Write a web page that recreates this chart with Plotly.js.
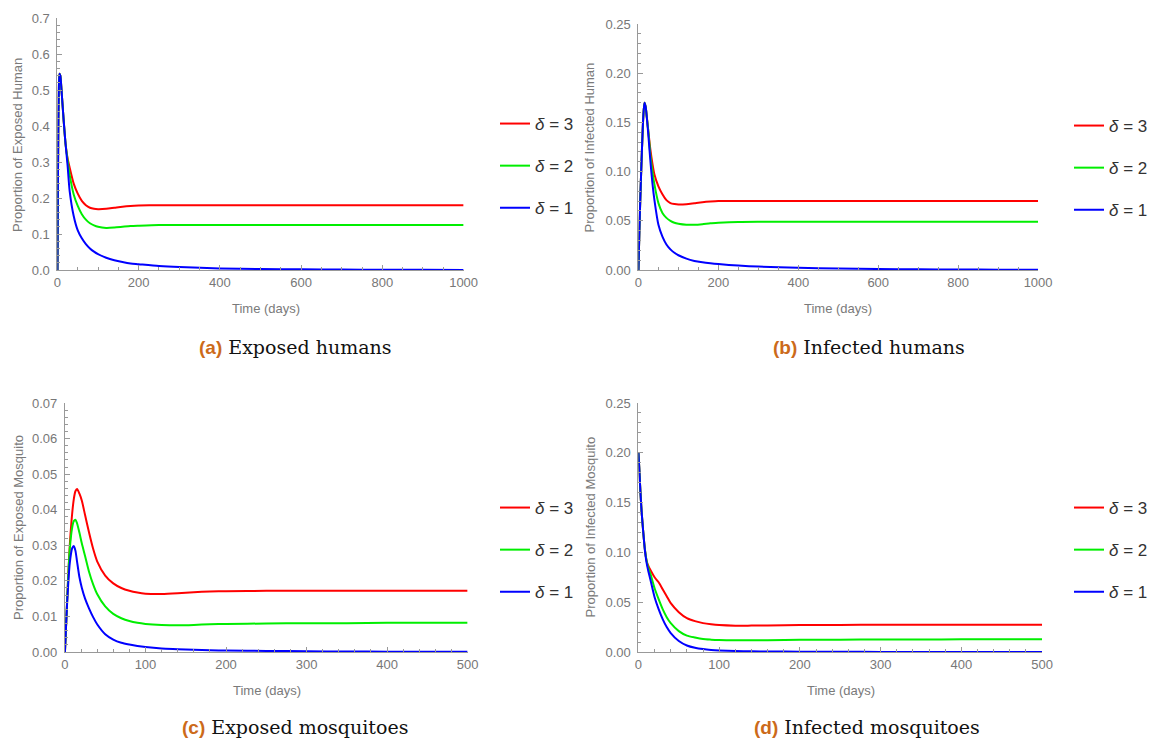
<!DOCTYPE html>
<html>
<head>
<meta charset="utf-8">
<script src="https://cdn.plot.ly/plotly-3.0.1.min.js"></script>
<style>html,body{margin:0;padding:0;background:#fff;}#chart{width:1153px;height:740px;}</style>
</head>
<body>
<div id="chart"></div>
<script>
// ---------- data ----------
const seriesNames = ["<i>δ</i> = 3", "<i>δ</i> = 2", "<i>δ</i> = 1"];
const seriesColors = ["#ff0000", "#00ee00", "#0000ff"];

// (a) Exposed humans
const tA = [0,1,2,3,5,7,10,15,20,25,30,40,50,60,70,80,90,100,120,140,160,180,200,250,300,400,500,600,700,800,900,1000];
const redA = [0,0.2,0.38,0.48,0.545,0.54,0.5,0.42,0.35,0.31,0.285,0.24,0.212,0.192,0.18,0.173,0.17,0.169,0.17,0.173,0.176,0.178,0.179,0.18,0.18,0.18,0.18,0.18,0.18,0.18,0.18,0.18];
const greenA = [0,0.2,0.38,0.48,0.545,0.54,0.5,0.42,0.35,0.305,0.265,0.21,0.178,0.155,0.14,0.13,0.124,0.12,0.117,0.118,0.12,0.122,0.123,0.125,0.125,0.125,0.125,0.125,0.125,0.125,0.125,0.125];
const blueA = [0,0.2,0.38,0.48,0.545,0.54,0.5,0.42,0.35,0.29,0.22,0.15,0.11,0.088,0.072,0.06,0.051,0.044,0.034,0.027,0.022,0.018,0.016,0.011,0.008,0.0045,0.0028,0.0018,0.0012,0.0008,0.0005,0.0003];

// (b) Infected humans
const tB = [0,3,6,9,12,15,18,21,25,30,35,40,50,60,70,80,90,100,120,140,160,180,200,250,300,400,500,600,700,800,900,1000];
const redB = [0,0.05,0.09,0.125,0.155,0.17,0.166,0.155,0.14,0.122,0.108,0.097,0.085,0.077,0.071,0.068,0.067,0.0665,0.0668,0.0678,0.0688,0.0695,0.07,0.07,0.07,0.07,0.07,0.07,0.07,0.07,0.07,0.07];
const greenB = [0,0.05,0.09,0.125,0.155,0.17,0.166,0.155,0.14,0.116,0.1,0.087,0.068,0.058,0.053,0.05,0.048,0.047,0.046,0.046,0.0466,0.0475,0.048,0.0488,0.049,0.049,0.049,0.049,0.049,0.049,0.049,0.049];
const blueB = [0,0.05,0.09,0.125,0.155,0.17,0.166,0.155,0.136,0.11,0.088,0.071,0.046,0.034,0.026,0.021,0.0175,0.015,0.0115,0.0092,0.0078,0.0068,0.006,0.0045,0.0035,0.0022,0.0014,0.001,0.0007,0.0005,0.0003,0.0002];

// (c) Exposed mosquitoes
const tC = [0,3,6,9,11,13,15,18,21,25,30,35,40,50,60,70,80,90,100,120,140,160,180,200,250,300,350,400,450,500];
const redC = [0,0.016,0.03,0.039,0.043,0.0452,0.0458,0.0445,0.0425,0.0385,0.0335,0.029,0.0255,0.0215,0.0193,0.018,0.0172,0.0167,0.0164,0.0163,0.0165,0.0168,0.017,0.0171,0.0172,0.0172,0.0172,0.0172,0.0172,0.0172];
const greenC = [0,0.016,0.029,0.035,0.0368,0.0372,0.0362,0.0335,0.0305,0.027,0.0225,0.019,0.0163,0.0128,0.0107,0.0095,0.0087,0.0082,0.0079,0.0076,0.0075,0.0076,0.0078,0.0079,0.008,0.0081,0.0081,0.0082,0.0082,0.0082];
const blueC = [0,0.015,0.025,0.0292,0.0298,0.0285,0.0255,0.021,0.018,0.015,0.0122,0.0098,0.0078,0.005,0.0035,0.0026,0.0021,0.0017,0.0014,0.001,0.0008,0.0006,0.0005,0.0004,0.0003,0.0002,0.00015,0.0001,0.0001,0.0001];

// (d) Infected mosquitoes
const tD = [0,1,2,3,4,6,8,10,12,15,20,25,30,35,40,50,60,70,80,90,100,120,140,160,200,250,300,350,400,450,500];
const redD = [0.2,0.185,0.168,0.153,0.14,0.12,0.103,0.092,0.087,0.082,0.075,0.07,0.063,0.056,0.049,0.04,0.034,0.031,0.029,0.0278,0.027,0.0264,0.0265,0.0267,0.027,0.0272,0.0273,0.0274,0.0274,0.0274,0.0274];
const greenD = [0.2,0.185,0.168,0.153,0.14,0.12,0.103,0.092,0.085,0.078,0.064,0.053,0.043,0.035,0.029,0.021,0.0165,0.0145,0.013,0.0124,0.012,0.0117,0.0117,0.0119,0.0122,0.0124,0.0125,0.0126,0.0127,0.0127,0.0127];
const blueD = [0.2,0.185,0.168,0.153,0.14,0.12,0.102,0.09,0.082,0.072,0.055,0.043,0.033,0.025,0.019,0.011,0.0065,0.0042,0.0029,0.0021,0.0016,0.001,0.0007,0.0005,0.0003,0.0002,0.0001,0.0001,0.0001,0,0];

// axis labels / captions
const yTitles = ["Proportion of Exposed Human", "Proportion of Infected Human", "Proportion of Exposed Mosquito", "Proportion of Infected Mosquito"];
const xTitle = "Time (days)";
const capLetters = ["(a)", "(b)", "(c)", "(d)"];
const capTexts = ["Exposed humans", "Infected humans", "Exposed mosquitoes", "Infected mosquitoes"];

// ---------- layout helpers ----------
const W = 1153, H = 740;
const fx = p => p / W;
const fy = p => 1 - p / H;

const panels = [
  {t: tA, ys: [redA, greenA, blueA], xr: [0, 1000], yr: [0, 0.7], xd: 200, xm: 50, yd: 0.1, ym: 0.02, yf: ".1f",
   box: [57.5, 464, 18, 270], leg: [495, 106], cap: [295, 347], yt: [17, 145], xt: [266, 308]},
  {t: tB, ys: [redB, greenB, blueB], xr: [0, 1000], yr: [0, 0.25], xd: 200, xm: 50, yd: 0.05, ym: 0.01, yf: ".2f",
   box: [639, 1039, 24, 270], leg: [1070, 108], cap: [870, 347], yt: [591, 147], xt: [839, 308]},
  {t: tC, ys: [redC, greenC, blueC], xr: [0, 500], yr: [0, 0.07], xd: 100, xm: 20, yd: 0.01, ym: 0.002, yf: ".2f",
   box: [65, 468, 403, 652], leg: [495, 490], cap: [295, 727], yt: [18, 527], xt: [267, 690]},
  {t: tD, ys: [redD, greenD, blueD], xr: [0, 500], yr: [0, 0.25], xd: 100, xm: 20, yd: 0.05, ym: 0.01, yf: ".2f",
   box: [639, 1043, 403, 652], leg: [1070, 490], cap: [868, 727], yt: [591, 527], xt: [842, 690]}
];

const axCol = "#999999";
const tickFont = {family: "Liberation Sans, Arial, sans-serif", size: 13, color: "#777777"};
const traces = [];
const layout = {
  width: W, height: H,
  margin: {l: 0, r: 0, t: 0, b: 0},
  paper_bgcolor: "#ffffff", plot_bgcolor: "#ffffff",
  font: {family: "Liberation Sans, Arial, sans-serif"},
  annotations: [],
  showlegend: true
};

panels.forEach((p, i) => {
  const n = i === 0 ? "" : String(i + 1);
  const xa = "xaxis" + n, ya = "yaxis" + n;
  const legKey = "legend" + n;
  layout[xa] = {
    domain: [fx(p.box[0]), fx(p.box[1])], range: p.xr, anchor: "y" + n,
    showline: true, linecolor: axCol, linewidth: 1, showgrid: false, zeroline: false,
    ticks: "inside", ticklen: 5, tickcolor: axCol, tick0: 0, dtick: p.xd,
    minor: {ticks: "inside", ticklen: 3, tickcolor: axCol, dtick: p.xm, showgrid: false},
    tickfont: tickFont, fixedrange: true
  };
  layout[ya] = {
    domain: [fy(p.box[3]), fy(p.box[2])], range: p.yr, anchor: "x" + n,
    showline: true, linecolor: axCol, linewidth: 1, showgrid: false, zeroline: false,
    ticks: "inside", ticklen: 5, tickcolor: axCol, tick0: 0, dtick: p.yd, tickformat: p.yf,
    minor: {ticks: "inside", ticklen: 3, tickcolor: axCol, dtick: p.ym, showgrid: false},
    tickfont: tickFont, ticklabelstandoff: 4, fixedrange: true
  };
  layout[legKey] = {
    x: fx(p.leg[0]), y: fy(p.leg[1]), xanchor: "left", yanchor: "top",
    bgcolor: "rgba(0,0,0,0)", borderwidth: 0, tracegroupgap: 17,
    font: {family: "Liberation Sans, Arial, sans-serif", size: 17, color: "#333333"}
  };
  p.ys.forEach((ys, k) => {
    traces.push({
      type: "scatter", mode: "lines", x: p.t, y: ys,
      xaxis: "x" + n, yaxis: "y" + n,
      name: seriesNames[k], legend: legKey, legendgroup: "g" + i + "_" + k,
      line: {color: seriesColors[k], width: 2, shape: "spline", smoothing: 0.7},
      hoverinfo: "skip"
    });
  });
  // y axis title
  layout.annotations.push({
    xref: "paper", yref: "paper", x: fx(p.yt[0]), y: fy(p.yt[1]), xanchor: "center", yanchor: "middle",
    text: yTitles[i], textangle: -90, showarrow: false,
    font: {family: "Liberation Sans, Arial, sans-serif", size: 13, color: "#7a7a7a"}
  });
  // x axis title
  layout.annotations.push({
    xref: "paper", yref: "paper", x: fx(p.xt[0]), y: fy(p.xt[1]), xanchor: "center", yanchor: "middle",
    text: xTitle, showarrow: false,
    font: {family: "Liberation Sans, Arial, sans-serif", size: 13, color: "#7a7a7a"}
  });
  // caption
  layout.annotations.push({
    xref: "paper", yref: "paper", x: fx(p.cap[0]), y: fy(p.cap[1]), xanchor: "center", yanchor: "middle",
    text: "<span style=\"font-family:'Liberation Sans',Arial,sans-serif;font-weight:bold;fill:#cc6a1a\">" + capLetters[i] + "</span> " + capTexts[i],
    showarrow: false,
    font: {family: "DejaVu Serif, Liberation Serif, serif", size: 19, color: "#111111"}
  });
});

Plotly.newPlot("chart", traces, layout, {staticPlot: true, displayModeBar: false});
</script>
</body>
</html>
